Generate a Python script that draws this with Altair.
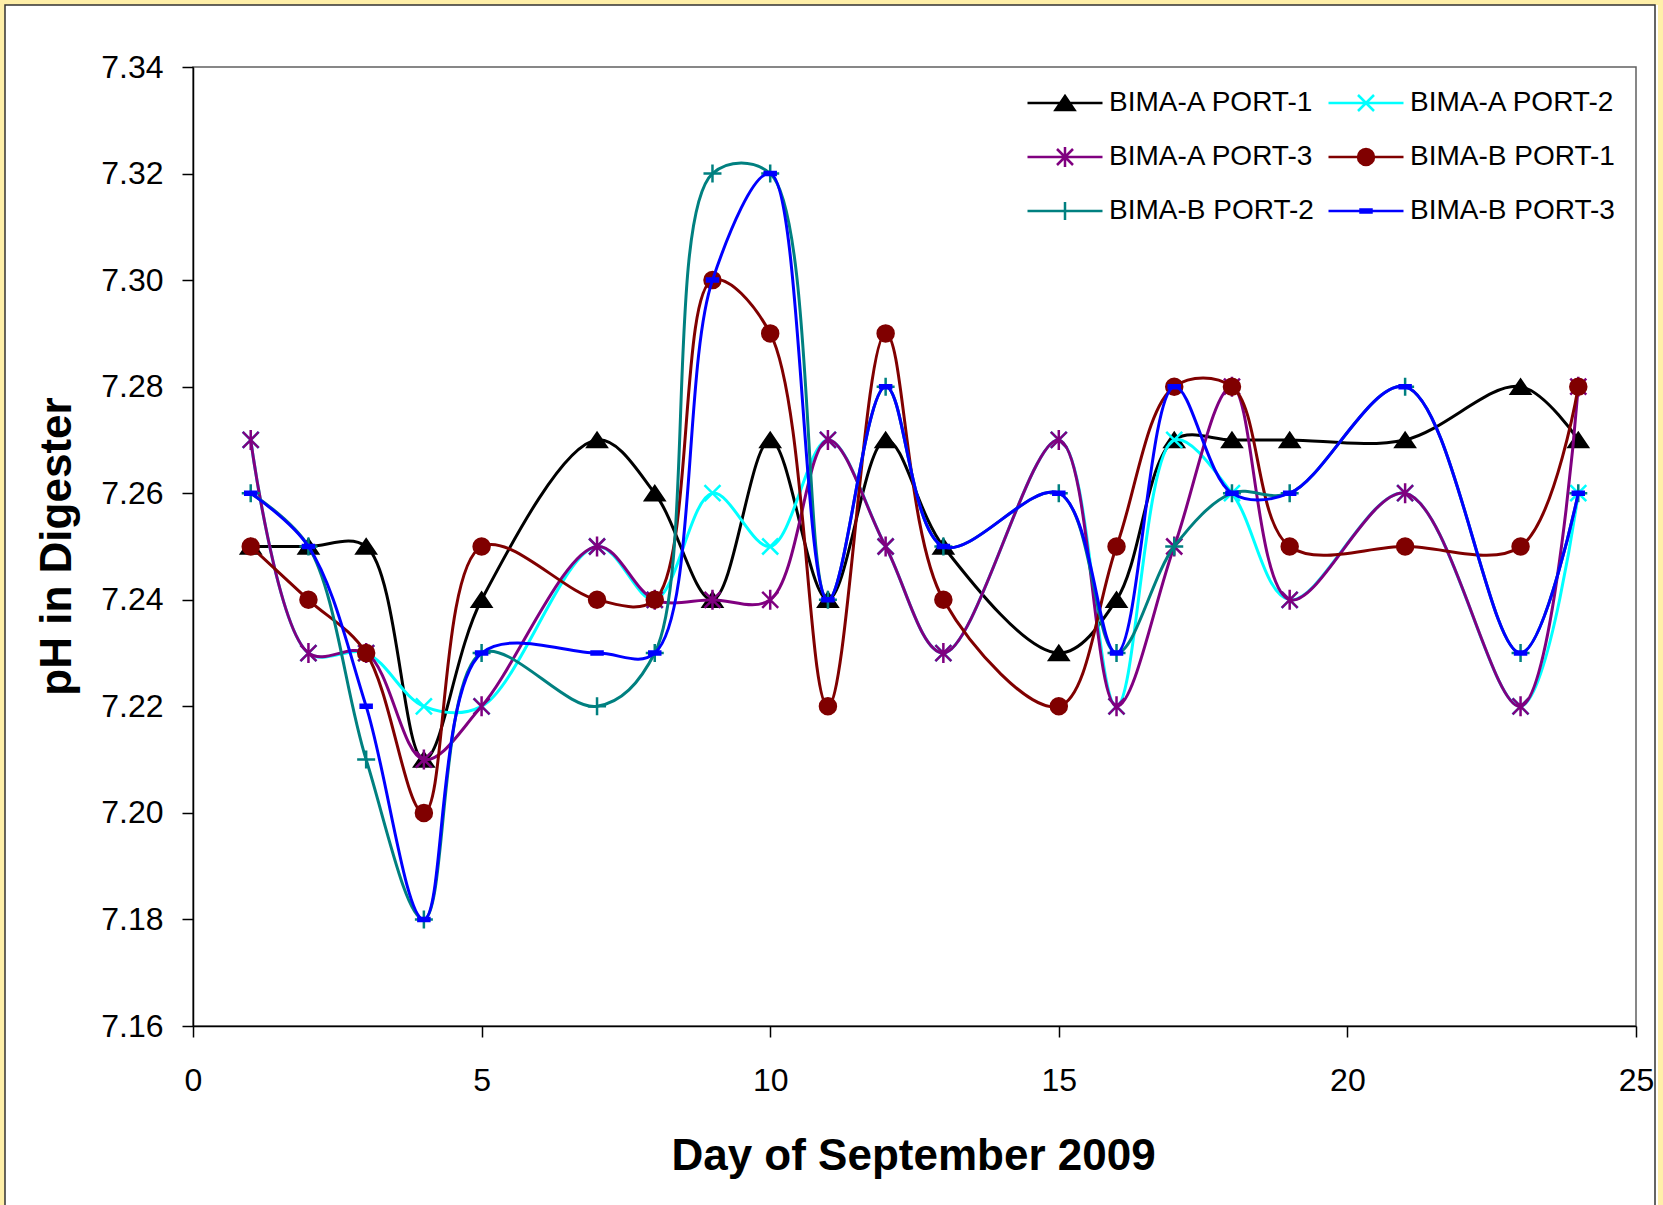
import altair as alt
import pandas as pd

# ---------------- data ----------------
days = [1, 2, 3, 4, 5, 7, 8, 9, 10, 11, 12, 13, 15, 16, 17, 18, 19, 21, 23, 24]
series_names = ["BIMA-A PORT-1", "BIMA-A PORT-2", "BIMA-A PORT-3",
                "BIMA-B PORT-1", "BIMA-B PORT-2", "BIMA-B PORT-3"]
a_port1 = [7.25, 7.25, 7.25, 7.21, 7.24, 7.27, 7.26, 7.24, 7.27, 7.24, 7.27, 7.25, 7.23, 7.24, 7.27, 7.27, 7.27, 7.27, 7.28, 7.27]
a_port2 = [7.27, 7.23, 7.23, 7.22, 7.22, 7.25, 7.24, 7.26, 7.25, 7.27, 7.25, 7.23, 7.27, 7.22, 7.27, 7.26, 7.24, 7.26, 7.22, 7.26]
a_port3 = [7.27, 7.23, 7.23, 7.21, 7.22, 7.25, 7.24, 7.24, 7.24, 7.27, 7.25, 7.23, 7.27, 7.22, 7.25, 7.28, 7.24, 7.26, 7.22, 7.28]
b_port1 = [7.25, 7.24, 7.23, 7.20, 7.25, 7.24, 7.24, 7.30, 7.29, 7.22, 7.29, 7.24, 7.22, 7.25, 7.28, 7.28, 7.25, 7.25, 7.25, 7.28]
b_port2 = [7.26, 7.25, 7.21, 7.18, 7.23, 7.22, 7.23, 7.32, 7.32, 7.24, 7.28, 7.25, 7.26, 7.23, 7.25, 7.26, 7.26, 7.28, 7.23, 7.26]
b_port3 = [7.26, 7.25, 7.22, 7.18, 7.23, 7.23, 7.23, 7.30, 7.32, 7.24, 7.28, 7.25, 7.26, 7.23, 7.28, 7.26, 7.26, 7.28, 7.23, 7.26]
series_values = [a_port1, a_port2, a_port3, b_port1, b_port2, b_port3]

x_ticks = [0, 5, 10, 15, 20, 25]
y_ticks = [7.16, 7.18, 7.20, 7.22, 7.24, 7.26, 7.28, 7.30, 7.32, 7.34]

# ---------------- styles ----------------
colors = ["#000000", "#00FFFF", "#800080", "#800000", "#008080", "#0000FF"]
tri = "M0,-0.7L0.95,0.7L-0.95,0.7Z"
xmark = "M-0.8,-0.8L0.8,0.8M-0.8,0.8L0.8,-0.8"
aster = "M-0.8,-0.8L0.8,0.8M-0.8,0.8L0.8,-0.8M0,-1L0,1"
circ = "M0.8,0A0.8,0.8,0,1,1,-0.8,0A0.8,0.8,0,1,1,0.8,0Z"
plus = "M-0.9,0L0.9,0M0,-0.9L0,0.9"
dash = "M-0.55,-0.15L0.55,-0.15L0.55,0.15L-0.55,0.15Z"
marker_paths = [tri, xmark, aster, circ, plus, dash]
seg = "M-3.75,0L3.75,0"
legend_paths = [seg + p for p in marker_paths]

rows = []
for name, vals in zip(series_names, series_values):
    for d, v in zip(days, vals):
        rows.append({"series": name, "day": d, "ph": v})
df = pd.DataFrame(rows)

W, H = 1443, 959
FONT = "Liberation Sans"

x_enc = alt.X("day:Q", scale=alt.Scale(domain=[0, 25], nice=False),
              axis=alt.Axis(values=x_ticks, title="Day of September 2009",
                            labelPadding=53, labelBaseline="alphabetic",
                            labelFlush=False, labelOverlap=False,
                            titleX=720, titleY=143, titleBaseline="alphabetic",
                            titleAlign="center"))
y_enc = alt.Y("ph:Q", scale=alt.Scale(domain=[7.16, 7.34], zero=False, nice=False),
              axis=alt.Axis(values=y_ticks, format=".2f", title="pH in Digester",
                            labelPadding=19, labelFlush=False, labelOverlap=False,
                            titleX=-123, titleY=479, titleAngle=270,
                            titleBaseline="alphabetic", titleAlign="center"))

deco = pd.DataFrame({"k": [0]})
outer = alt.Chart(deco).mark_rect(fillOpacity=0, stroke="#FFEFA8", strokeWidth=10).encode(
    x=alt.value(-193), x2=alt.value(1470), y=alt.value(-67), y2=alt.value(1170))
inner = alt.Chart(deco).mark_rect(fillOpacity=0, stroke="#333333", strokeWidth=1.5).encode(
    x=alt.value(-188), x2=alt.value(1462), y=alt.value(-62), y2=alt.value(1170))

layers = [outer, inner]
for i, name in enumerate(series_names):
    base = alt.Chart(df).transform_filter(alt.datum.series == name)
    line = base.mark_line(interpolate="catmull-rom", color=colors[i],
                          strokeWidth=3).encode(x=x_enc, y=y_enc)
    pts = base.mark_point(shape=marker_paths[i], size=400, filled=True, fill=colors[i],
                          stroke=colors[i], strokeWidth=2.5, opacity=1).encode(x=x_enc, y=y_enc)
    layers += [line, pts]

legend = alt.Legend(title=None, orient="none", legendX=858, legendY=22, columns=2,
                    direction="horizontal",
                    symbolSize=400, symbolStrokeWidth=2.5, labelFont=FONT, labelFontSize=28,
                    labelColor="black", labelLimit=400, labelOffset=30,
                    columnPadding=9, rowPadding=25, padding=0, symbolOpacity=1)
leg = alt.Chart(df).transform_filter("false").mark_point(
    filled=True, size=400, strokeWidth=2.5, opacity=1).encode(
    x=x_enc, y=y_enc,
    shape=alt.Shape("series:N", scale=alt.Scale(domain=series_names, range=legend_paths), legend=legend),
    fill=alt.Fill("series:N", scale=alt.Scale(domain=series_names, range=colors), legend=legend),
    stroke=alt.Stroke("series:N", scale=alt.Scale(domain=series_names, range=colors), legend=legend),
)
layers.append(leg)

chart = alt.layer(*layers).properties(
    width=W, height=H, background="white",
    padding={"left": 193, "top": 67, "right": 27, "bottom": 179},
    autosize=alt.AutoSizeParams(type="none"),
).configure_view(stroke="#606060", strokeWidth=1.5).configure_axis(
    domainColor="black", domainWidth=1.5, tickColor="black", tickWidth=1.5, tickSize=11,
    grid=False, labelFont=FONT, labelFontSize=32, labelColor="black",
    titleFont=FONT, titleFontSize=44, titleFontWeight="bold", titleColor="black",
)

chart.save("out.html", embed_options={"renderer": "svg", "actions": False})
